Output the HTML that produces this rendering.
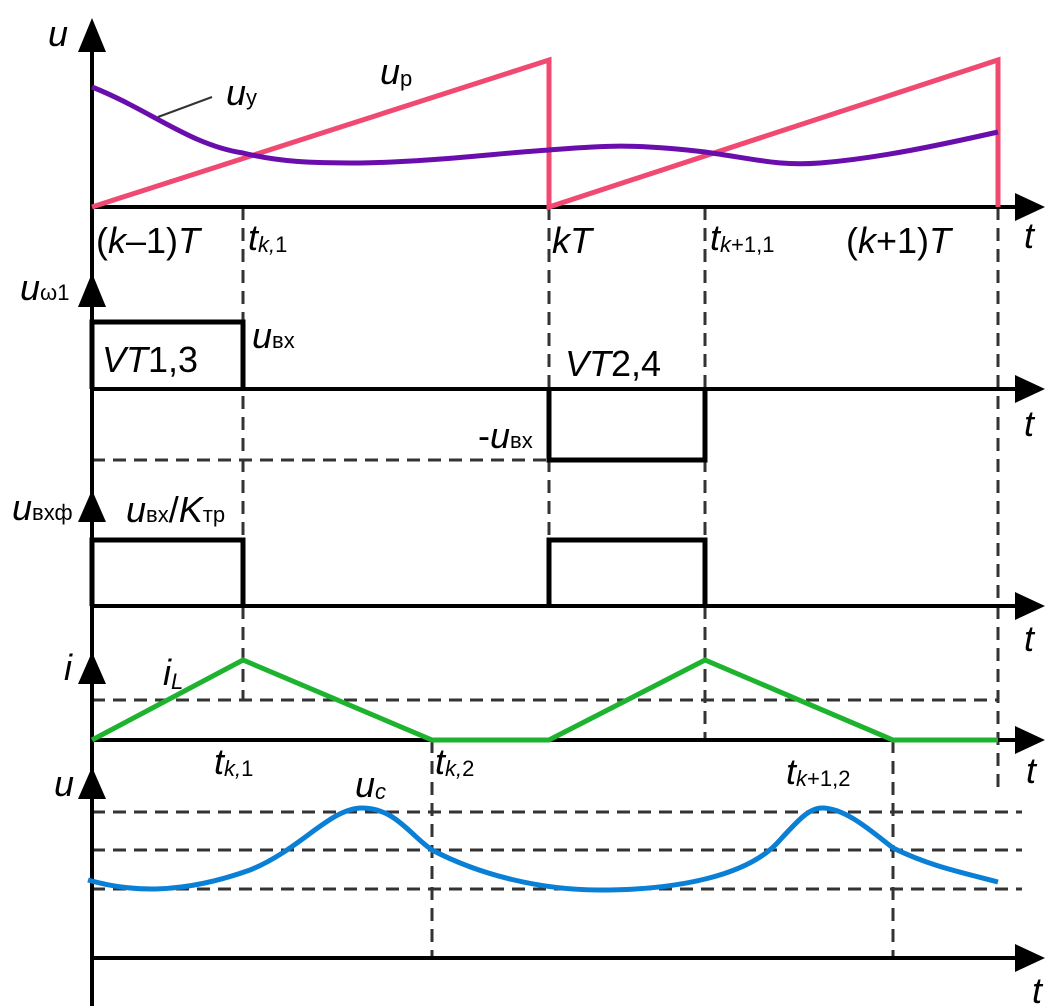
<!DOCTYPE html>
<html><head><meta charset="utf-8"><style>
html,body{margin:0;padding:0;background:#fff;}
svg{display:block;}
text{font-family:"Liberation Sans",sans-serif;fill:#000;}
.i{font-style:italic;}
</style></head><body>
<svg width="1059" height="1006" viewBox="0 0 1059 1006" xmlns="http://www.w3.org/2000/svg">
<!-- dashed lines -->
<g stroke="#333" stroke-width="3" stroke-dasharray="13,8" fill="none">
<line x1="243" y1="207" x2="243" y2="700"/>
<line x1="549" y1="207" x2="549" y2="605"/>
<line x1="705" y1="207" x2="705" y2="740"/>
<line x1="998" y1="207" x2="998" y2="795"/>
<line x1="432" y1="740" x2="432" y2="958"/>
<line x1="893" y1="740" x2="893" y2="958"/>
<line x1="92" y1="460" x2="549" y2="460"/>
<line x1="92" y1="700" x2="998" y2="700"/>
<line x1="92" y1="812" x2="1022" y2="812"/>
<line x1="92" y1="850" x2="1022" y2="850"/>
<line x1="92" y1="889" x2="1022" y2="889"/>
</g>
<line x1="92" y1="1006" x2="92" y2="30" stroke="#000" stroke-width="4"/>
<g fill="#000">
<path d="M92,18 L78,52 L106,52 z"/>
<path d="M92,273 L78,307 L106,307 z"/>
<path d="M92,490 L78,522 L106,522 z"/>
<path d="M92,652 L78,684 L106,684 z"/>
<path d="M92,767 L78,799 L106,799 z"/>
</g>
<g stroke="#000" stroke-width="4">
<line x1="92" y1="207" x2="1020" y2="207"/>
<line x1="92" y1="389" x2="1020" y2="389"/>
<line x1="92" y1="606" x2="1020" y2="606"/>
<line x1="92" y1="740" x2="1020" y2="740"/>
<line x1="92" y1="958" x2="1020" y2="958"/>
</g>
<g fill="#000">
<path d="M1045,207 L1015,193 L1015,221 z"/>
<path d="M1045,389 L1015,375 L1015,403 z"/>
<path d="M1045,606 L1015,592 L1015,620 z"/>
<path d="M1045,740 L1015,726 L1015,754 z"/>
<path d="M1045,958 L1015,944 L1015,972 z"/>
</g>
<path d="M92,207 L549,60 L549,207 L998,60 L998,207" stroke="#f04a72" stroke-width="5" fill="none"/>
<path d="M92,87 C150,110 190,145 243,153 C280,162 310,163 360,163 C430,162 500,153 549,150 C600,146 630,143 705,152 C760,160 780,166 820,163 C880,158 940,145 998,132" stroke="#6a0dad" stroke-width="5" fill="none"/>
<line x1="158" y1="117" x2="212" y2="97" stroke="#333" stroke-width="2"/>
<g stroke="#000" stroke-width="5" fill="none">
<path d="M92,389 L92,322 L243,322 L243,389"/>
<path d="M549,389 L549,460 L705,460 L705,389"/>
<path d="M92,606 L92,540 L243,540 L243,606"/>
<path d="M549,606 L549,540 L705,540 L705,606"/>
</g>
<path d="M92,740 L243,660 L432,740 L549,740 L705,660 L893,740 L998,740" stroke="#1db32e" stroke-width="5" fill="none"/>
<path d="M88,880 C130,892 180,895 250,870 C300,850 330,808 362,808 C395,808 410,835 432,850 C480,875 540,890 600,890 C680,890 750,875 780,840 C800,818 810,808 822,808 C845,808 870,830 893,848 C930,866 960,872 998,882" stroke="#0a7fd6" stroke-width="5" fill="none"/>
<g font-size="36">
<text x="48" y="46" class="i">u</text>
<text x="226" y="105" class="i">u<tspan font-size="22" font-style="normal">y</tspan></text>
<text x="380" y="84" class="i">u<tspan font-size="22" font-style="normal" dy="2">p</tspan></text>
<text x="96" y="253">(<tspan class="i">k</tspan>–1)<tspan class="i">T</tspan></text>
<text x="248" y="250" class="i">t<tspan font-size="22" dy="2">k,</tspan><tspan font-size="22" font-style="normal">1</tspan></text>
<text x="552" y="253" class="i">kT</text>
<text x="710" y="250" class="i">t<tspan font-size="22" dy="2">k</tspan><tspan font-size="22" font-style="normal">+1,1</tspan></text>
<text x="846" y="253">(<tspan class="i">k</tspan>+1)<tspan class="i">T</tspan></text>
<text x="1024" y="248" class="i">t</text>
<text x="20" y="300" class="i">u<tspan font-size="22" font-style="normal">ω1</tspan></text>
<text x="252" y="348" class="i">u<tspan font-size="22" font-style="normal">вх</tspan></text>
<text x="102" y="372"><tspan class="i">VT</tspan>1,3</text>
<text x="565" y="376"><tspan class="i">VT</tspan>2,4</text>
<text x="478" y="448">-<tspan class="i">u</tspan><tspan font-size="22">вх</tspan></text>
<text x="1024" y="436" class="i">t</text>
<text x="12" y="520" class="i">u<tspan font-size="22" font-style="normal">вхф</tspan></text>
<text x="126" y="522" class="i">u<tspan font-size="22" font-style="normal">вх</tspan><tspan font-style="normal">/</tspan>K<tspan font-size="22" font-style="normal">тр</tspan></text>
<text x="1024" y="651" class="i">t</text>
<text x="64" y="680" class="i">i</text>
<text x="163" y="685" class="i">i<tspan font-size="22" dy="4">L</tspan></text>
<text x="214" y="774" class="i">t<tspan font-size="22" dy="2">k,</tspan><tspan font-size="22" font-style="normal">1</tspan></text>
<text x="435" y="774" class="i">t<tspan font-size="22" dy="2">k,</tspan><tspan font-size="22" font-style="normal">2</tspan></text>
<text x="786" y="784" class="i">t<tspan font-size="22" dy="2">k</tspan><tspan font-size="22" font-style="normal">+1,2</tspan></text>
<text x="1026" y="783" class="i">t</text>
<text x="54" y="796" class="i">u</text>
<text x="355" y="797" class="i">u<tspan font-size="22" dy="2">c</tspan></text>
<text x="1032" y="1003" class="i">t</text>
</g>
</svg>
</body></html>
